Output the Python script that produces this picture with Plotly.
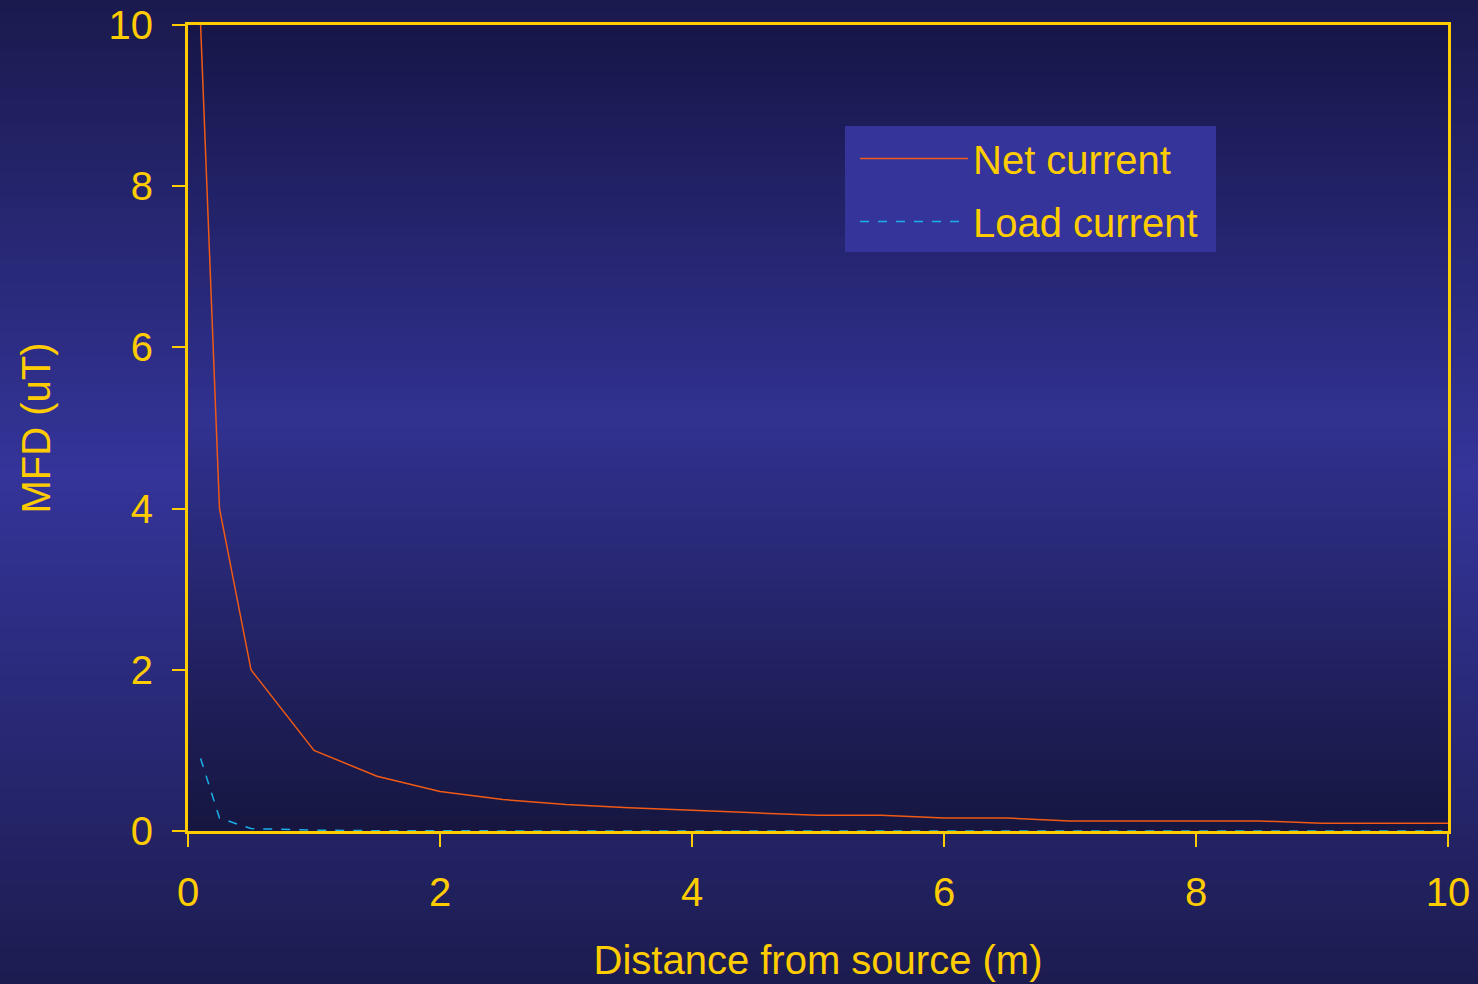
import plotly.graph_objects as go

# ---- data ----
distance = [0.1, 0.25, 0.5, 1, 1.5, 2, 2.5, 3, 3.5, 4, 4.5, 5, 5.5, 6, 6.5, 7, 7.5, 8, 8.5, 9, 9.5, 10]
net_current = [10, 4, 2, 1, 0.68, 0.49, 0.39, 0.33, 0.29, 0.255, 0.225, 0.195, 0.195, 0.16, 0.16,
               0.125, 0.125, 0.125, 0.125, 0.095, 0.095, 0.095]
load_current = [0.9, 0.16, 0.03, 0.01, 0.004, 0, 0, 0, 0, 0, 0, 0, 0, 0, 0, 0, 0, 0, 0, 0, 0, 0]

x_ticks = [0, 2, 4, 6, 8, 10]
y_ticks = [0, 2, 4, 6, 8, 10]

GOLD = "#FFCC00"
FONT = "Liberation Sans, Arial, sans-serif"

W, H = 1478, 984
L, R, T, B = 188, 30, 25, 153
PW, PH = W - L - R, H - T - B


def lerp(c1, c2, t):
    return tuple(round(a + (b - a) * t) for a, b in zip(c1, c2))


def grad(edge_top, center, edge_bot, peak, t):
    if t <= peak:
        return lerp(edge_top, center, t / peak)
    return lerp(center, edge_bot, (t - peak) / (1 - peak))


def px_x(px):
    return (px - L) / PW


def px_y(py):
    return 1 - (py - T) / PH


shapes = []
# page background gradient
N = 80
for i in range(N):
    t0, t1 = i / N, (i + 1) / N
    tm = (t0 + t1) / 2
    c = grad((26, 26, 78), (52, 52, 154), (28, 28, 80), 0.48, tm)
    shapes.append(dict(type="rect", xref="paper", yref="paper", layer="below",
                       x0=px_x(0), x1=px_x(W),
                       y0=px_y(t1 * H + 1), y1=px_y(t0 * H),
                       fillcolor="rgb(%d,%d,%d)" % c, line=dict(width=0)))
# plot area gradient
for i in range(N):
    t0, t1 = i / N, (i + 1) / N
    tm = (t0 + t1) / 2
    c = grad((22, 22, 72), (49, 49, 145), (22, 22, 64), 0.49, tm)
    shapes.append(dict(type="rect", xref="paper", yref="paper", layer="below",
                       x0=0, x1=1, y0=1 - t1 - 0.002, y1=1 - t0,
                       fillcolor="rgb(%d,%d,%d)" % c, line=dict(width=0)))
# legend box
shapes.append(dict(type="rect", xref="paper", yref="paper", layer="below",
                   x0=px_x(845), x1=px_x(1216), y0=px_y(252), y1=px_y(126),
                   fillcolor="#34349A", line=dict(width=0)))

fig = go.Figure()
fig.add_trace(go.Scatter(x=distance, y=net_current, mode="lines", name="Net current",
                         line=dict(color="#F05A14", width=1.5), legendgroup="a"))
fig.add_trace(go.Scatter(x=distance, y=load_current, mode="lines", name="Load current",
                         line=dict(color="#1AB0E8", width=1.5, dash="dash"), legendgroup="b"))

axis_common = dict(
    showgrid=False, zeroline=False, showline=True, linecolor=GOLD, linewidth=3,
    mirror=True, ticks="outside", ticklen=13, tickwidth=2, tickcolor=GOLD,
    tickfont=dict(family=FONT, size=40, color=GOLD), layer="below traces",
)

fig.update_layout(
    width=W, height=H,
    margin=dict(l=L, r=R, t=T, b=B, autoexpand=False),
    paper_bgcolor="#1e1e5a", plot_bgcolor="rgba(0,0,0,0)",
    shapes=shapes,
    showlegend=True,
    legend=dict(x=px_x(855), y=px_y(126), xanchor="left", yanchor="top",
                bgcolor="rgba(0,0,0,0)", borderwidth=0, font=dict(family=FONT, size=40, color=GOLD),
                itemwidth=108, traceorder="grouped", tracegroupgap=8),
    xaxis=dict(range=[0, 10], tickvals=x_ticks, ticklabelstandoff=11,
               title=dict(text="Distance from source (m)", font=dict(family=FONT, size=40, color=GOLD),
                          standoff=33),
               **axis_common),
    yaxis=dict(range=[0, 10], tickvals=y_ticks, ticklabelstandoff=11,
               title=dict(text="MFD (uT)", font=dict(family=FONT, size=40, color=GOLD), standoff=46),
               **axis_common),
)

fig.write_html("out.html")
